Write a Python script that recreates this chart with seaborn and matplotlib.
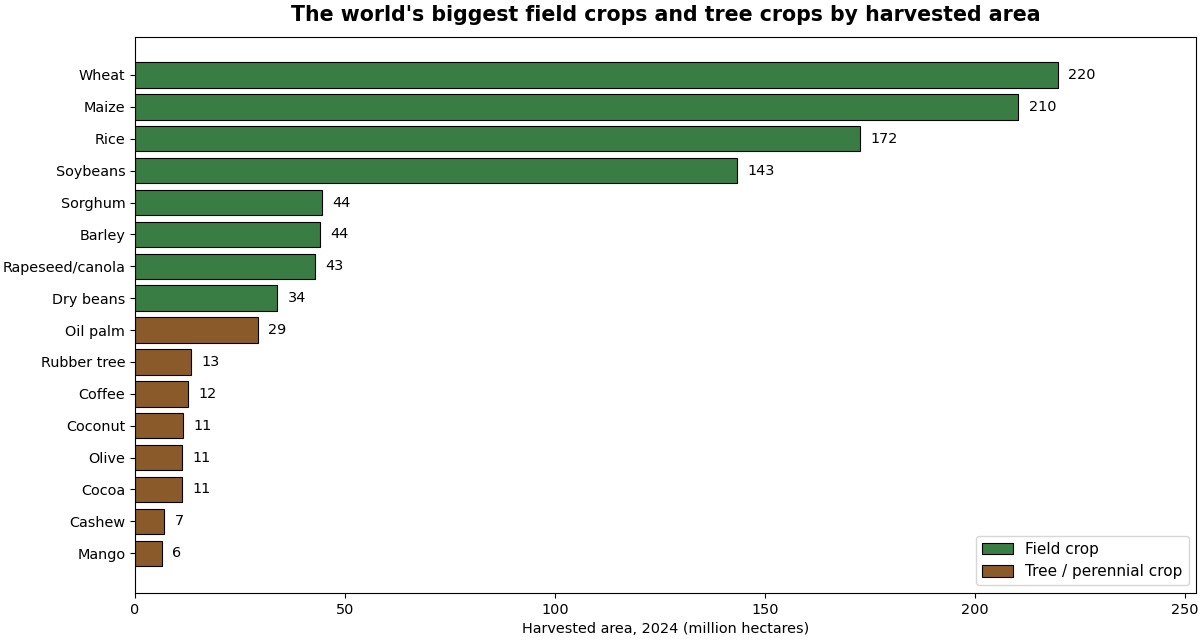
import matplotlib
matplotlib.use("Agg")
import matplotlib.pyplot as plt
import seaborn as sns
import pandas as pd

crops = ["Wheat", "Maize", "Rice", "Soybeans", "Sorghum", "Barley", "Rapeseed/canola",
         "Dry beans", "Oil palm", "Rubber tree", "Coffee", "Coconut", "Olive", "Cocoa",
         "Cashew", "Mango"]
area = [219.7, 210.2, 172.5, 143.4, 44.4, 44.0, 42.9, 33.8, 29.2, 13.3, 12.5, 11.4,
        11.2, 11.2, 6.9, 6.4]
kind = ["Field crop"] * 8 + ["Tree / perennial crop"] * 8
palette = {"Field crop": "#3a7d44", "Tree / perennial crop": "#8b5a2b"}
xticks = [0, 50, 100, 150, 200, 250]

df = pd.DataFrame({"crop": crops, "area": area, "kind": kind})

fig, ax = plt.subplots(figsize=(12, 6.44), dpi=100)
sns.barplot(data=df, x="area", y="crop", hue="kind", palette=palette, dodge=False,
            saturation=1, edgecolor="black", linewidth=0.8, width=0.8, ax=ax)

for i, v in enumerate(area):
    ax.text(v + 2.5, i, f"{v:.0f}", va="center", ha="left", fontsize=10.4)

ax.set_xlim(0, max(area) * 1.15)
ax.set_xticks(xticks)
ax.set_ylim(16.25, -1.2)
ax.tick_params(labelsize=10.4)
ax.set_xlabel("Harvested area, 2024 (million hectares)", fontsize=10.4)
ax.set_ylabel("")
ax.set_title("The world's biggest field crops and tree crops by harvested area",
             fontsize=14.8, fontweight="bold", pad=11)
ax.legend(loc="lower right", title=None, fontsize=11, handlelength=2.0, handleheight=0.8)

fig.subplots_adjust(left=0.1125, right=0.997, top=0.943, bottom=0.079)
fig.savefig("out.png", dpi=100)
